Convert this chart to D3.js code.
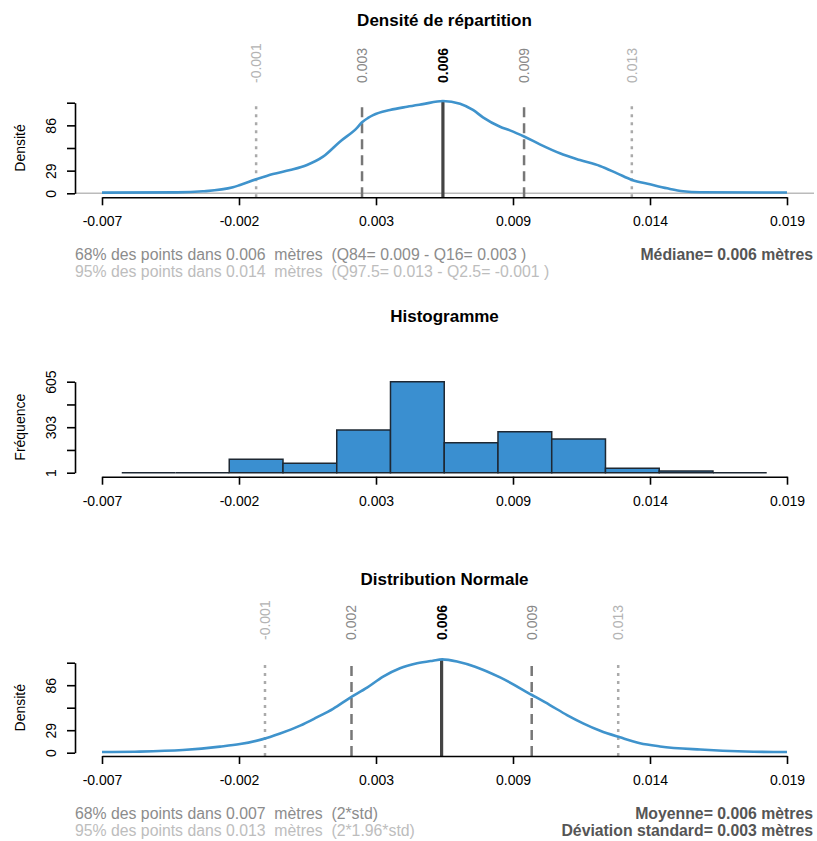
<!DOCTYPE html>
<html>
<head>
<meta charset="utf-8">
<script src="https://cdn.jsdelivr.net/npm/d3@7"></script>
<style>
  body { margin: 0; background: #fff; }
  text { font-family: "Liberation Sans", Arial, sans-serif; }
</style>
</head>
<body>
<svg id="chart" width="817" height="841"></svg>
<script>
// ---- data ----
const xTicks = [-0.007, -0.0018, 0.0034, 0.0086, 0.0138, 0.019];
const xTickLabels = ["-0.007", "-0.002", "0.003", "0.009", "0.014", "0.019"];

const densTicks = [0, 28.7, 57.4, 86.1, 114.8];
const densTickLabels = ["0", "29", "", "86", ""];
const freqTicks = [1, 152, 303, 454, 605];
const freqTickLabels = ["1", "", "303", "", "605"];

// density curve (top panel)
const densX = [-0.007, -0.00415, -0.00317, -0.00203, -0.00176, -0.00115, -0.00051, 0.00014, 0.00078, 0.00139,
  0.00203, 0.00268, 0.00287, 0.0031, 0.00329, 0.00393, 0.00458, 0.00518, 0.00594, 0.00659, 0.00708,
  0.00746, 0.00811, 0.00846, 0.00875, 0.00902, 0.00962, 0.01038, 0.01114, 0.0119, 0.01255, 0.01312,
  0.0138, 0.01445, 0.01506, 0.0157, 0.019];
const densY = [0.8, 1.2, 2.5, 7.6, 10.5, 17.7, 24.5, 29.5, 35.9, 46.4,
  65.4, 83, 90, 95.5, 99, 105.5, 109.7, 113, 117, 113.5, 105.6,
  96.3, 84.4, 80, 76, 72, 62, 50.7, 42.2, 34.6, 25.3, 16.9,
  11.4, 6.3, 2.5, 1.3, 1.0];

// quantiles: Q2.5, Q16, median, Q84, Q97.5
const quantValues = [-0.00115, 0.00287, 0.00594, 0.00902, 0.01311];

// histogram
const binEdges = [-0.00625, -0.00421, -0.00217, -0.00013, 0.00191, 0.00395, 0.00599,
  0.00803, 0.01007, 0.01211, 0.01415, 0.01619, 0.01823];
const binCounts = [1, 1, 90, 63, 284, 605, 200, 273, 225, 30, 12, 1];

// normal curve (bottom panel)
const normX = [-0.007, -0.00575, -0.00393, -0.00252, -0.00176, -0.00093, -0.00024, 0.00052, 0.00115, 0.00177, 0.00241,
  0.00306, 0.00367, 0.00431, 0.00496, 0.00556, 0.00591, 0.00651, 0.00716, 0.00811, 0.00932,
  0.01, 0.01065, 0.01126, 0.01191, 0.01266, 0.01342, 0.01418, 0.01571, 0.01741, 0.019];
const normY = [0.8, 1.3, 3.4, 7.7, 11, 17, 24.5, 34.5, 45, 56, 70,
  83, 97, 107.7, 114, 117.4, 119, 116, 109.7, 96, 73.6,
  60.8, 48, 37.5, 28, 19.6, 12, 8, 4, 1.5, 0.8];
const normMean = 0.00589;
const normSd = 0.00342;
const normMult = [-1.96, -1, 0, 1, 1.96];

// ---- drawing ----
const svg = d3.select("#chart");
const fmt = v => v.toFixed(3);

const x = d3.scaleLinear().domain([-0.007, 0.019]).range([102, 787]);
const regionLeft = 75, regionRight = 814;

const lineStyles = [
  { stroke: "#aaaaaa", width: 2.5, dash: "3,5", label: "#b3b3b3", bold: false },
  { stroke: "#777777", width: 2.5, dash: "10,6", label: "#888888", bold: false },
  { stroke: "#444444", width: 3.2, dash: null, label: "#000000", bold: true },
  { stroke: "#777777", width: 2.5, dash: "10,6", label: "#888888", bold: false },
  { stroke: "#aaaaaa", width: 2.5, dash: "3,5", label: "#b3b3b3", bold: false }
];

function drawAxes(y, axisY, yTicks, yLabels, yTitle) {
  const xa = svg.append("g")
    .attr("transform", "translate(0," + axisY + ")")
    .call(d3.axisBottom(x).tickValues(xTicks)
      .tickFormat((d, i) => xTickLabels[i])
      .tickSize(8).tickSizeOuter(0).tickPadding(11));
  xa.selectAll("path, line").attr("stroke", "#000").attr("stroke-width", 1.6);
  xa.selectAll("text").attr("font-size", 14).attr("fill", "#000")
    .style("font-family", "'Liberation Sans', Arial, sans-serif");

  const ya = svg.append("g")
    .attr("transform", "translate(" + regionLeft + ",0)")
    .call(d3.axisLeft(y).tickValues(yTicks)
      .tickFormat((d, i) => yLabels[i])
      .tickSize(8).tickSizeOuter(0));
  ya.selectAll("path, line").attr("stroke", "#000").attr("stroke-width", 1.6);
  ya.selectAll("text")
    .attr("x", 0).attr("dy", null)
    .attr("text-anchor", "middle")
    .attr("transform", "translate(-19,0) rotate(-90)")
    .attr("font-size", 14).attr("fill", "#000")
    .style("font-family", "'Liberation Sans', Arial, sans-serif");

  const [r0, r1] = y.range();
  svg.append("text")
    .attr("transform", "translate(25," + ((r0 + r1) / 2) + ") rotate(-90)")
    .attr("text-anchor", "middle")
    .attr("font-size", 14)
    .text(yTitle);
}

function drawTitle(txt, yPos) {
  svg.append("text")
    .attr("x", (regionLeft + regionRight) / 2).attr("y", yPos)
    .attr("text-anchor", "middle")
    .attr("font-size", 17).attr("font-weight", "bold")
    .text(txt);
}

function drawCurve(xs, ys, y) {
  const pts = xs.map((v, i) => [v, ys[i]]);
  svg.append("path")
    .datum(pts)
    .attr("fill", "none")
    .attr("stroke", "#3f93cc")
    .attr("stroke-width", 2.6)
    .attr("d", d3.line().x(d => x(d[0])).y(d => y(d[1])).curve(d3.curveMonotoneX));
}

function drawMarkers(values, y, axisY, lineTop, peak, labelBottom) {
  values.forEach((v, i) => {
    const st = lineStyles[i];
    svg.append("line")
      .attr("x1", x(v)).attr("x2", x(v))
      .attr("y1", axisY).attr("y2", y(i === 2 ? peak : lineTop))
      .attr("stroke", st.stroke)
      .attr("stroke-width", st.width)
      .attr("stroke-dasharray", st.dash);
    svg.append("text")
      .attr("transform", "translate(" + (x(v) + 5) + "," + labelBottom + ") rotate(-90)")
      .attr("text-anchor", "start")
      .attr("font-size", 14)
      .attr("font-weight", st.bold ? "bold" : "normal")
      .attr("fill", st.label)
      .text(fmt(v));
  });
}

function drawNotes(axisY, left1, left2, right1, right2) {
  const rows = [[left1, right1, "#8c8c8c"], [left2, right2, "#bdbdbd"]];
  rows.forEach((r, i) => {
    const yy = axisY + 63 + i * 17;
    svg.append("text").attr("x", regionLeft).attr("y", yy)
      .attr("font-size", 15.8).attr("fill", r[2])
      .style("white-space", "pre").attr("xml:space", "preserve")
      .text(r[0]);
    if (r[1]) {
      svg.append("text").attr("x", 813).attr("y", yy)
        .attr("text-anchor", "end")
        .attr("font-size", 15.8).attr("font-weight", "bold").attr("fill", "#555")
        .text(r[1]);
    }
  });
}

// ---- panel 1 : density ----
{
  const axisY = 197.3;
  const y = d3.scaleLinear().domain([0, 114.8]).range([193.3, 102.7]);
  drawTitle("Densité de répartition", 26);
  svg.append("line")
    .attr("x1", regionLeft).attr("x2", regionRight)
    .attr("y1", y(0)).attr("y2", y(0))
    .attr("stroke", "#bbbbbb").attr("stroke-width", 1.5);
  drawMarkers(quantValues, y, axisY, 114.5, d3.max(densY), 83);
  drawCurve(densX, densY, y);
  drawAxes(y, axisY, densTicks, densTickLabels, "Densité");
  const q68 = quantValues[3] - quantValues[1];
  const q95 = quantValues[4] - quantValues[0];
  drawNotes(axisY,
    "68% des points dans " + fmt(q68) + "  mètres  (Q84= " + fmt(quantValues[3]) + " - Q16= " + fmt(quantValues[1]) + " )",
    "95% des points dans " + fmt(q95) + "  mètres  (Q97.5= " + fmt(quantValues[4]) + " - Q2.5= " + fmt(quantValues[0]) + " )",
    "Médiane= " + fmt(quantValues[2]) + " mètres", null);
}

// ---- panel 2 : histogram ----
{
  const axisY = 476.7;
  const y = d3.scaleLinear().domain([1, 605]).range([472.7, 381.7]);
  drawTitle("Histogramme", 322);
  svg.append("g").selectAll("path")
    .data(binCounts)
    .join("path")
    .attr("d", (c, i) => {
      const x0 = x(binEdges[i]), x1 = x(binEdges[i + 1]);
      const y0 = y(1), y1 = y(c);
      return "M" + x0 + "," + y0 + "V" + y1 + "H" + x1 + "V" + y0 + "Z";
    })
    .attr("fill", "#3a8fd0")
    .attr("stroke", "#1e2833")
    .attr("stroke-width", 1.5);
  drawAxes(y, axisY, freqTicks, freqTickLabels, "Fréquence");
}

// ---- panel 3 : normal distribution ----
{
  const axisY = 756;
  const y = d3.scaleLinear().domain([0, 114.8]).range([752.7, 662.7]);
  drawTitle("Distribution Normale", 585);
  const vals = normMult.map(k => normMean + k * normSd);
  drawMarkers(vals, y, axisY, 117, d3.max(normY), 640);
  drawCurve(normX, normY, y);
  drawAxes(y, axisY, densTicks, densTickLabels, "Densité");
  drawNotes(axisY,
    "68% des points dans " + fmt(2 * normSd) + "  mètres  (2*std)",
    "95% des points dans " + fmt(2 * 1.96 * normSd) + "  mètres  (2*1.96*std)",
    "Moyenne= " + fmt(normMean) + " mètres",
    "Déviation standard= " + fmt(normSd) + " mètres");
}
</script>
</body>
</html>
